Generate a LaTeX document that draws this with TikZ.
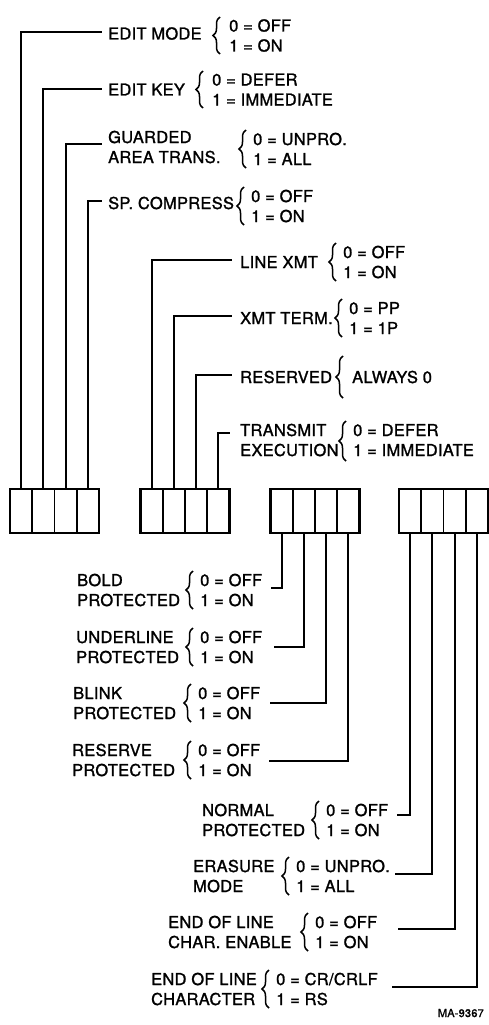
\documentclass[tikz,border=0pt]{standalone}
\usepackage{fontspec}
\setmainfont{TeX Gyre Heros}[LetterSpace=2,FakeBold=1.4]
\usetikzlibrary{decorations.pathreplacing}
\begin{document}
\begin{tikzpicture}[x=1pt,y=-1pt,
  lab/.style={anchor=base west, inner sep=0pt, font=\fontsize{16.4}{20}\selectfont},
  conn/.style={line width=1.8pt},
  brc/.style={decorate, decoration={brace, amplitude=7pt}, line width=1.5pt},
  cell/.style={draw, line width=1.6pt, minimum width=22.25pt, minimum height=44pt, inner sep=0pt, outer sep=0pt},
  frame/.style={line width=2.8pt}]
\useasboundingbox (0,0) rectangle (489,1025);

% ---------- register boxes ----------
\foreach \b/\L in {A/10,B/140.5,C/270.5,D/399}{
  \foreach \i in {1,...,4}{
    \node[cell] (\b\i) at ({\L+22.25*\i-11.125},511) {};
  }
  \draw[frame] (\b1.north west) rectangle (\b4.south east);
}

% ---------- free ends of connectors ----------
\coordinate (e1) at (102,32);
\coordinate (e2) at (102,89);
\coordinate (e3) at (102,144);
\coordinate (e4) at (102,201);
\coordinate (e5) at (232,260);
\coordinate (e6) at (232,316);
\coordinate (e7) at (232,375);
\coordinate (e8) at (230,433);
\coordinate (e9) at (271,588);
\coordinate (e10) at (274,647);
\coordinate (e11) at (270,703);
\coordinate (e12) at (269,761);
\coordinate (e13) at (397,815);
\coordinate (e14) at (395,874);
\coordinate (e15) at (398,929);
\coordinate (e16) at (392,987);

% ---------- connectors ----------
\draw[conn] (A1.north) |- (e1);
\draw[conn] (A2.north) |- (e2);
\draw[conn] (A3.north) |- (e3);
\draw[conn] (A4.north) |- (e4);
\draw[conn] (B1.north) |- (e5);
\draw[conn] (B2.north) |- (e6);
\draw[conn] (B3.north) |- (e7);
\draw[conn] (B4.north) |- (e8);
\draw[conn] (C1.south) |- (e9);
\draw[conn] (C2.south) |- (e10);
\draw[conn] (C3.south) |- (e11);
\draw[conn] (C4.south) |- (e12);
\draw[conn] (D1.south) |- (e13);
\draw[conn] (D2.south) |- (e14);
\draw[conn] (D3.south) |- (e15);
\draw[conn] (D4.south) |- (e16);

% ---------- top group ----------
\node[lab] (t1) at (108,39.5) {EDIT MODE};
\draw[brc] (220,54) -- (220,17);
\node[lab] (v1a) at (229,31.5) {0 = OFF};
\node[lab] (v1b) at (229,51.5) {1 = ON};

\node[lab] (t2) at (108,95.5) {EDIT KEY};
\draw[brc] (203,108) -- (203,71);
\node[lab] (v2a) at (212,85.5) {0 = DEFER};
\node[lab] (v2b) at (212,105.5) {1 = IMMEDIATE};

\node[lab] (t3a) at (108,143) {GUARDED};
\node[lab] (t3b) at (108,163) {AREA TRANS.};
\draw[brc] (246,168) -- (246,130);
\node[lab] (v3a) at (253,145) {0 = UNPRO.};
\node[lab] (v3b) at (253,165) {1 = ALL};

\node[lab] (t4) at (108,209) {SP. COMPRESS};
\draw[brc] (244,225) -- (244,187);
\node[lab] (v4a) at (251,202) {0 = OFF};
\node[lab] (v4b) at (251,222) {1 = ON};

% ---------- second group ----------
\node[lab] (t5) at (240,268) {LINE XMT};
\draw[brc] (336,281) -- (336,243);
\node[lab] (v5a) at (343,258) {0 = OFF};
\node[lab] (v5b) at (343,278) {1 = ON};

\node[lab] (t6) at (240,324) {XMT TERM.};
\draw[brc] (342,337) -- (342,299);
\node[lab] (v6a) at (349,314) {0 = PP};
\node[lab] (v6b) at (349,334) {1 = 1P};

\node[lab] (t7) at (240,383) {RESERVED};
\draw[brc] (343,398) -- (343,356);
\node[lab] (v7) at (352,383) {ALWAYS 0};

\node[lab] (t8a) at (240,436) {TRANSMIT};
\node[lab] (t8b) at (240,456) {EXECUTION};
\draw[brc] (346,461) -- (346,421);
\node[lab] (v8a) at (353,436) {0 = DEFER};
\node[lab] (v8b) at (353,456) {1 = IMMEDIATE};

% ---------- third group ----------
\node[lab] (t9a) at (77,586) {BOLD};
\node[lab] (t9b) at (77,606) {PROTECTED};
\draw[brc] (193,609) -- (193,571);
\node[lab] (v9a) at (200,586) {0 = OFF};
\node[lab] (v9b) at (200,606) {1 = ON};

\node[lab] (t10a) at (76,643) {UNDERLINE};
\node[lab] (t10b) at (76,663) {PROTECTED};
\draw[brc] (193,666) -- (193,628);
\node[lab] (v10a) at (200,643) {0 = OFF};
\node[lab] (v10b) at (200,663) {1 = ON};

\node[lab] (t11a) at (73,699) {BLINK};
\node[lab] (t11b) at (73,719) {PROTECTED};
\draw[brc] (191,722) -- (191,684);
\node[lab] (v11a) at (198,699) {0 = OFF};
\node[lab] (v11b) at (198,719) {1 = ON};

\node[lab] (t12a) at (72,756) {RESERVE};
\node[lab] (t12b) at (72,776) {PROTECTED};
\draw[brc] (191,779) -- (191,741);
\node[lab] (v12a) at (198,756) {0 = OFF};
\node[lab] (v12b) at (198,776) {1 = ON};

% ---------- fourth group ----------
\node[lab] (t13a) at (202,816) {NORMAL};
\node[lab] (t13b) at (202,836) {PROTECTED};
\draw[brc] (319,839) -- (319,801);
\node[lab] (v13a) at (326,816) {0 = OFF};
\node[lab] (v13b) at (326,836) {1 = ON};

\node[lab] (t14a) at (193,872) {ERASURE};
\node[lab] (t14b) at (193,892) {MODE};
\draw[brc] (289,895) -- (289,857);
\node[lab] (v14a) at (296,872) {0 = UNPRO.};
\node[lab] (v14b) at (296,892) {1 = ALL};

\node[lab] (t15a) at (168,928) {END OF LINE};
\node[lab] (t15b) at (168,948) {CHAR. ENABLE};
\draw[brc] (308,951) -- (308,913);
\node[lab] (v15a) at (315,928) {0 = OFF};
\node[lab] (v15b) at (315,948) {1 = ON};

\node[lab] (t16a) at (151,985) {END OF LINE};
\node[lab] (t16b) at (151,1005) {CHARACTER};
\draw[brc] (269,1008) -- (269,970);
\node[lab] (v16a) at (276,985) {0 = CR/CRLF};
\node[lab] (v16b) at (276,1005) {1 = RS};

\node[anchor=base east, inner sep=0pt, font=\fontsize{11}{13}\selectfont] (ma) at (484,1017) {MA-9367};
\end{tikzpicture}
\end{document}
